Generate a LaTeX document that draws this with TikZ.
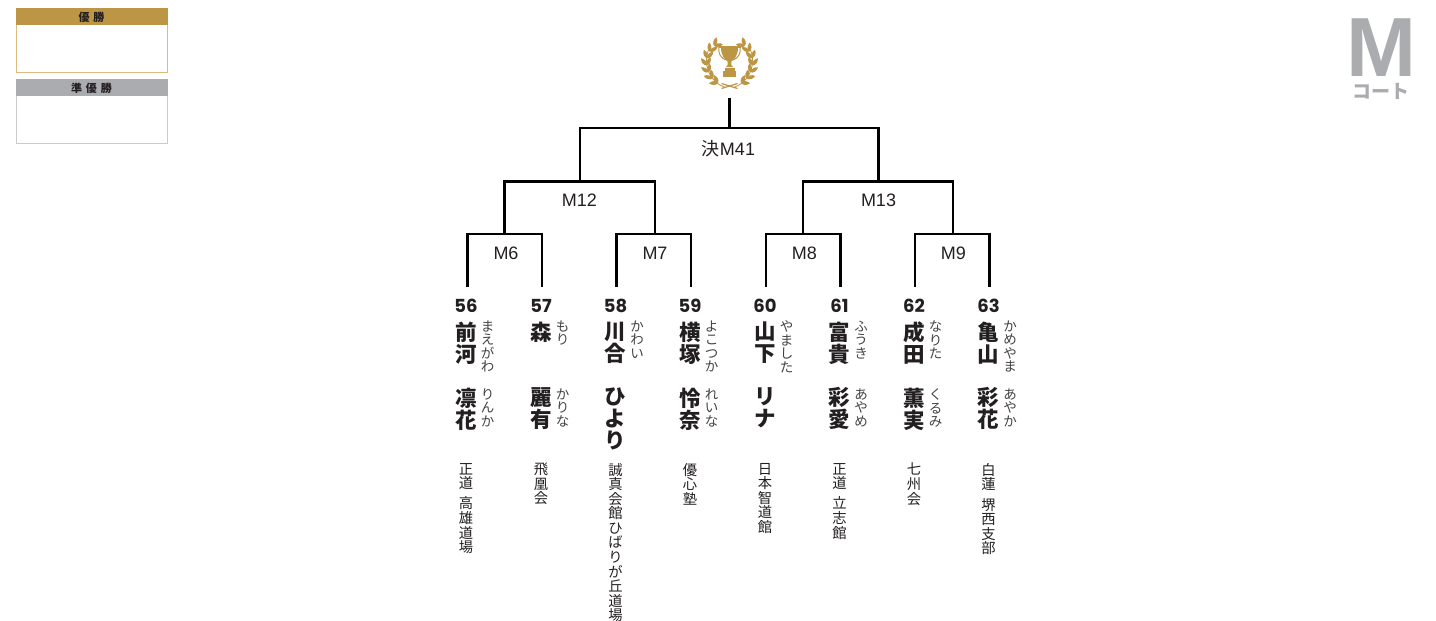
\documentclass[tikz,border=0pt]{standalone}
\usepackage{fontspec}
\setmainfont{Liberation Sans}
\newfontfamily\cjk{Noto Sans CJK JP}
\newfontfamily\numfont{Poppins}
\definecolor{gold}{HTML}{BC9645}
\definecolor{goldline}{HTML}{DDBB7C}
\definecolor{silver}{HTML}{ABACB0}
\definecolor{silverline}{HTML}{CBCBCD}
\definecolor{ink}{HTML}{231F20}
\tikzset{
		% bracket lines and the texts beside them
		bracket line/.style={draw,black,line width=2.7pt},
		match node/.style={inner sep=0,font=\fontsize{18}{20}\selectfont,text=ink},
		num node/.style={inner sep=0,anchor=center,font=\fontsize{18}{20}\selectfont\numfont\bfseries,text=ink},
		name node/.style={inner sep=0,anchor=north,font=\fontsize{21.5}{23}\selectfont\cjk\bfseries,text=ink},
		kana node/.style={inner sep=0,anchor=north,font=\fontsize{13.5}{15}\selectfont\cjk,text=ink!85},
		club node/.style={inner sep=0,anchor=north,font=\fontsize{14.3}{16}\selectfont\cjk,text=ink},
		head node/.style={inner sep=0,font=\fontsize{11}{12}\selectfont\cjk\bfseries,text=ink}
	}
% one character per line, #1 is the pitch
\newcommand{\vgap}{}
\makeatletter
\def\vstack@next#1{\ifx#1\relax\else\ifx#1\vgap\kern5.7pt\else\hbox to 1em{\hss#1\hss}\fi\expandafter\vstack@next\fi}
\newcommand{\vstack}[2]{\vbox{\baselineskip=#1\lineskiplimit=-100pt\expandafter\vstack@next#2\relax}}
\makeatother
\newcommand{\leafshape}{(0,0) .. controls (2,2.6) and (6,2.6) .. (9,0) .. controls (6,-2.6) and (2,-2.6) .. (0,0)}

\begin{document}
\begin{tikzpicture}[x=1pt,y=-1pt]
		\useasboundingbox (0,0) rectangle (1436,621);

		% winner boxes
		\node [draw=goldline,line width=1pt,minimum width=151pt,minimum height=64pt,inner sep=0] (winbox) at (91.5,40.5) {};
		\node [fill=gold,minimum width=152pt,minimum height=17pt,inner sep=0] (winhead) at (91.5,16.5) {};
		\node [head node] (wintext) at (91.5,17.5) {優\hspace{4pt}勝};
		\node [draw=silverline,line width=1pt,minimum width=151pt,minimum height=64pt,inner sep=0] (secondbox) at (91.5,111.5) {};
		\node [fill=silver,minimum width=152pt,minimum height=17pt,inner sep=0] (secondhead) at (91.5,87.5) {};
		\node [head node] (secondtext) at (91.5,88.5) {準\hspace{4pt}優\hspace{4pt}勝};

		% court letter
		\node [inner sep=0,text=silver,text height=59pt,text depth=0pt,font=\fontsize{84}{84}\selectfont\bfseries] (court) at (1381,46.5) {M};
		\node [inner sep=0,text=silver,text height=13pt,text depth=0pt,font=\fontsize{19}{20}\selectfont\cjk\bfseries] (courttext) at (1381,92) {コート};

		% trophy
		\begin{scope}[shift={(729.5,63)}]
			\foreach \s in {1,-1} {
				\begin{scope}[xscale=\s]
					\draw [gold,line width=0.8pt] (5,24) .. controls (15,21) and (23,10) .. (23,-2) .. controls (23,-8) and (22,-12) .. (19,-17);
					\draw [gold,line width=1.2pt] (-8,25.5) -- (8,20.5);
					\foreach \a in {30,48,...,140} {
						\fill [gold,shift={({23*sin(\a)},{23*cos(\a)})},rotate=\a-32] \leafshape;
						\fill [gold,shift={({23*sin(\a)},{23*cos(\a)})},rotate=\a+32] \leafshape;
					}
					% handle
					\draw [gold,line width=1pt] (10.5,-16) .. controls (11.5,-9) and (9,-6) .. (4,-3);
				\end{scope}
			}
			\fill [gold] (-11,-17) rectangle (11,-15);
			\fill [gold] (-8.5,-15.5) -- (8.5,-15.5) .. controls (8.5,-7) and (4,-2.5) .. (1.8,-1.5) -- (1.8,2) -- (3.5,4) -- (-3.5,4) -- (-1.8,2) -- (-1.8,-1.5) .. controls (-4,-2.5) and (-8.5,-7) .. (-8.5,-15.5) -- cycle;
			\fill [gold] (-5,5) rectangle (5,7.5);
			\fill [gold] (-6.2,7.5) rectangle (6.2,14);
		\end{scope}

		% players
		\foreach \n/\x/\lx/\sei/\seikana/\mei/\meikana/\club in {
			56/466/467.3/前河/まえがわ/凛花/りんか/正道\vgap 高雄道場,
			57/541/542/森/もり/麗有/かりな/飛凰会,
			58/615.5/616.7/川合/かわい/ひより//誠真会館ひばりが丘道場,
			59/690/691/横塚/よこつか/怜奈/れいな/優心塾,
			60/765/766/山下/やました/リナ//日本智道館,
			61/839.5/840.3/富貴/ふうき/彩愛/あやめ/正道\vgap 立志館,
			62/914/915/成田/なりた/薫実/くるみ/七州会,
			63/988.5/989.7/亀山/かめやま/彩花/あやか/白蓮\vgap 堺西支部
		} {
			\node [num node] (num\n) at (\x,306) {\n};
			\node [name node] (sei\n) at (\x,321.5) {\vstack{22pt}{\sei}};
			\node [kana node] (seikana\n) at (\x+21.5,320.5) {\vstack{13.5pt}{\seikana}};
			\node [name node] (mei\n) at (\x,387.5) {\vstack{22pt}{\mei}};
			\node [kana node] (meikana\n) at (\x+21.5,388.5) {\vstack{13.5pt}{\meikana}};
			\node [club node] (club\n) at (\x,463) {\vstack{14.55pt}{\club}};
			\coordinate (top\n) at (\lx,286.7);
		}

		% bracket
		\coordinate (T6) at (504.7,234);
		\coordinate (T7) at (655,234);
		\coordinate (T8) at (803,234);
		\coordinate (T9) at (953,234);
		\coordinate (T12) at (580,181.5);
		\coordinate (T13) at (878.3,181.5);
		\coordinate (T41) at (729.2,128);
		\coordinate (cup) at (729.2,98);
		\foreach \a/\b/\c in {top56/T6/top57,top58/T7/top59,top60/T8/top61,top62/T9/top63,T6/T12/T7,T8/T13/T9,T12/T41/T13} {
			\draw [bracket line] (\a) |- (\b) -| (\c);
		}
		\draw [bracket line] (cup) -- (T41);

		% match labels
		\foreach \m/\t/\x/\y in {M6/M6/506/253.5,M7/M7/655/253.5,M8/M8/804.3/253.5,M9/M9/953.3/253.5,M12/M12/579.5/200.5,M13/M13/878.5/200.5,M41/{{\cjk 決}M41}/728.5/148.5} {
			\node [match node] (\m) at (\x,\y) {\t};
		}
	\end{tikzpicture}
\end{document}
